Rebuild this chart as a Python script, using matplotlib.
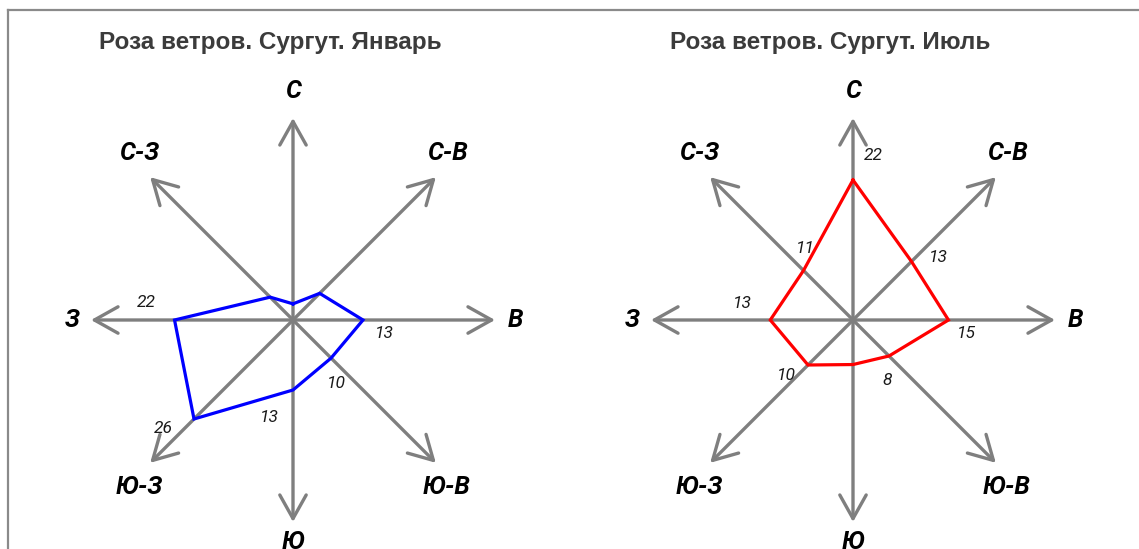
import numpy as np
import matplotlib
matplotlib.use("Agg")
import matplotlib.pyplot as plt
from matplotlib.lines import Line2D

# wind directions (Сургут), clockwise from north
directions = ["С", "С-В", "В", "Ю-В", "Ю", "Ю-З", "З", "С-З"]
angles_deg = [90, 45, 0, -45, -90, -135, 180, 135]

# repeat frequency, %
jan_values = [3, 7, 13, 10, 13, 26, 22, 6]
jul_values = [22, 13, 15, 8, 7, 10, 13, 11]

# which values get a text label
jan_shown = [False, False, True, True, True, True, True, False]
jul_shown = [True, True, True, True, False, True, True, True]

titles = ["Роза ветров. Сургут. Январь", "Роза ветров. Сургут. Июль"]

# label offsets in pixels from the polygon vertex (x right, y up)
jan_offsets = [(0, 0), (0, 0), (21, -13), (5, -25), (-24, -27), (-31, -10), (-28, 17), (0, 0)]
jul_offsets = [(20, 25), (27, 4), (18, -13), (-2, -25), (0, 0), (-22, -11), (-28, 16), (2, 22)]

W, H = 1139, 549
S = 140.0          # px for the biggest value of each rose
ARROW = 202 / S    # arrow length in rose units
LABEL_R = {0: 222, 90: 229, -90: 222, 180: 221}

fig = plt.figure(figsize=(W / 100, H / 100), dpi=100)

# frame of the original document picture
fig.add_artist(Line2D([8 / W, 1], [1 - 10 / H, 1 - 10 / H], color="#8a8a8a", lw=1.6))
fig.add_artist(Line2D([8 / W, 8 / W], [0, 1 - 10 / H], color="#8a8a8a", lw=1.6))


def draw_rose(cx, values, shown, offsets, color, title, title_x):
    half = 280
    ax = fig.add_axes([(cx - half) / W, 0, 2 * half / W, 1])
    ax.set_xlim(-half / S, half / S)
    ax.set_ylim(-(H - 320) / S, 320 / S)
    ax.axis("off")

    ang = np.radians(angles_deg)
    # axes with arrows
    for a in ang:
        ax.annotate("", xy=(ARROW * np.cos(a), ARROW * np.sin(a)), xytext=(0, 0),
                    arrowprops=dict(arrowstyle="->,head_length=1.7,head_width=0.95",
                                    color="#7f7f7f", lw=2.4, shrinkA=0, shrinkB=0,
                                    mutation_scale=10))

    # direction names
    for name, d in zip(directions, angles_deg):
        if d in LABEL_R:
            r = LABEL_R[d] / S
            x, y = r * np.cos(np.radians(d)), r * np.sin(np.radians(d))
        else:
            x = 154 / S * np.sign(np.cos(np.radians(d)))
            y = 167 / S * np.sign(np.sin(np.radians(d)))
        ax.text(x, y, name, ha="center", va="center", fontsize=18,
                fontweight="bold", fontstyle="italic", family="Roboto",
                color="black")

    # the rose itself
    r = np.array(values) / max(values)
    xs = r * np.cos(ang)
    ys = r * np.sin(ang)
    ax.plot(np.append(xs, xs[0]), np.append(ys, ys[0]), color=color, lw=2.3,
            solid_joinstyle="miter", zorder=3)

    for v, x, y, on, off in zip(values, xs, ys, shown, offsets):
        if on:
            ax.annotate(str(v), xy=(x, y), xytext=off, textcoords="offset pixels",
                        ha="center", va="center", fontsize=12.5, fontstyle="italic",
                        family="Roboto", color="#1a1a1a")

    fig.text(title_x / W, 1 - 43 / H, title, ha="center", va="center",
             fontsize=17.5, fontweight="bold", family="Liberation Sans", color="#3b3b3b")


draw_rose(293, jan_values, jan_shown, jan_offsets, "#0000ff", titles[0], 270)
draw_rose(853, jul_values, jul_shown, jul_offsets, "#ff0000", titles[1], 830)

fig.savefig("out.png", dpi=100, facecolor="white")
